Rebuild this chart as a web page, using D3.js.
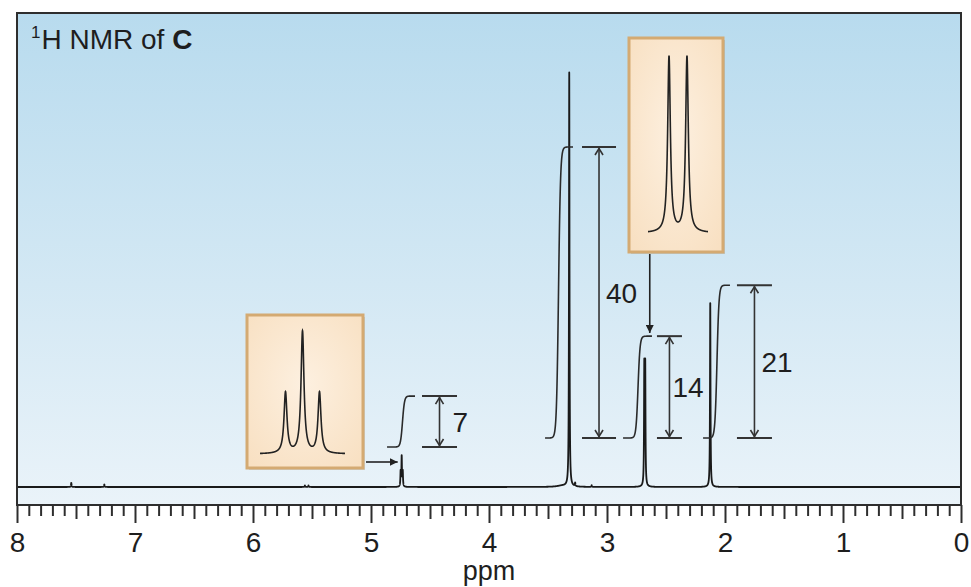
<!DOCTYPE html>
<html><head><meta charset="utf-8">
<script src="https://cdn.jsdelivr.net/npm/d3@7/dist/d3.min.js"></script>
<style>
body{margin:0;background:#fff}
svg{display:block}
text{font-family:"Liberation Sans",Arial,Helvetica,sans-serif;fill:#1e1e1e}
</style>
</head><body>
<svg id="chart" width="971" height="587"></svg>
<script>
// ---------------- data ----------------
const peakPpm    = [7.54, 7.26, 5.56, 5.53, 4.749, 4.740, 4.731, 3.38, 3.32, 3.27, 3.13, 2.684, 2.676, 2.125];
const peakHeight = [1.0,  0.6,  0.4,  0.4,  3.6,   7.2,   3.6,   0.3,  100,  0.8,  0.4,  28.5,  28.5,  44.7];
const peakWidth  = [0.0025,0.0025,0.0025,0.0025,0.0025,0.0025,0.0025,0.05,0.0025,0.0025,0.0025,0.0025,0.0025,0.0025];
const majorTicks = [8, 7, 6, 5, 4, 3, 2, 1, 0];
const integralValues = [7, 40, 14, 21];
const integralFrom   = [4.864, 3.525, 2.864, 2.186];
const integralMid    = [4.733, 3.411, 2.737, 2.068];
const integralTo     = [4.627, 3.288, 2.619, 1.958];
const tripletOffsets = [-1, 0, 1];
const tripletHeights = [1, 2, 1];
const doubletOffsets = [-0.5, 0.5];
const doubletHeights = [1, 1];
const titleParts = ["1", "H NMR of ", "C"];
const axisTitle = "ppm";

// ---------------- layout ----------------
const L = 17, R = 961, T = 13, B = 505, BASE = 487;
const integralBase = [447, 438, 438, 438];
const bracketGap = [7, 9, 5, 7];
const bracketWidth = [35, 34, 25, 35];
const labelGap = [13, 7, 3, 7];

const svg = d3.select("#chart");
const defs = svg.append("defs");
const g1 = defs.append("linearGradient").attr("id","bg").attr("x1",0).attr("y1",0).attr("x2",0).attr("y2",1);
g1.append("stop").attr("offset","0%").attr("stop-color","#b8dbee");
g1.append("stop").attr("offset","55%").attr("stop-color","#d3e8f4");
g1.append("stop").attr("offset","100%").attr("stop-color","#eaf3f9");
const g2 = defs.append("radialGradient").attr("id","peach").attr("cx","50%").attr("cy","45%").attr("r","70%");
g2.append("stop").attr("offset","0%").attr("stop-color","#fdf0e0");
g2.append("stop").attr("offset","100%").attr("stop-color","#f8e0c2");
defs.append("marker").attr("id","fillArrow").attr("viewBox","0 0 10 10").attr("refX",10).attr("refY",5)
  .attr("markerWidth",8).attr("markerHeight",8).attr("markerUnits","userSpaceOnUse").attr("orient","auto")
  .append("path").attr("d","M0,0 L10,5 L0,10 z").attr("fill","#222");

const x = d3.scaleLinear().domain([8, 0]).range([L, R]);
const y = d3.scaleLinear().domain([0, 100]).range([BASE, 73]);
const intH = d3.scaleLinear().domain([0, 40]).range([0, 291]);

// panel
svg.append("rect").attr("x",L).attr("y",T).attr("width",R-L).attr("height",B-T).attr("fill","url(#bg)");

// title
const title = svg.append("text").attr("x",31).attr("y",49).attr("font-size",28);
title.append("tspan").attr("font-size",17).attr("dy",-11).text(titleParts[0]);
title.append("tspan").attr("dy",11).attr("dx",1).text(titleParts[1]);
title.append("tspan").attr("font-weight","bold").text(titleParts[2]);

// spectrum
function lor(p, pos, h, w){ const d = p - pos; return h*w*w/(d*d + w*w); }
const specPts = d3.range(0, 8.0001, 0.0004).map(p => [p, d3.sum(peakPpm, (q,i) => lor(p, q, peakHeight[i], peakWidth[i]))]);
svg.append("path").datum(specPts)
  .attr("d", d3.line().x(d => x(d[0])).y(d => y(d[1])))
  .attr("fill","none").attr("stroke","#1a1a1a").attr("stroke-width",1.8).attr("stroke-linejoin","round");

// integrals + brackets
const S = 0.0085;
integralValues.forEach((v, i) => {
  const base = integralBase[i];
  const pts = d3.range(integralFrom[i], integralTo[i] - 1e-9, -0.0005)
     .map(p => [p, v/(1 + Math.exp(-(integralMid[i] - p)/S))]);
  svg.append("path").datum(pts)
    .attr("d", d3.line().x(d => x(d[0])).y(d => base - intH(d[1])))
    .attr("fill","none").attr("stroke","#2a2a2a").attr("stroke-width",1.6);
  const top = base - intH(v);
  const bx0 = x(integralTo[i]) + bracketGap[i], bx1 = bx0 + bracketWidth[i], ax = (bx0 + bx1)/2;
  const br = svg.append("g").attr("stroke","#333").attr("stroke-width",2).attr("fill","none");
  br.append("line").attr("x1",bx0).attr("x2",bx1).attr("y1",top).attr("y2",top);
  br.append("line").attr("x1",bx0).attr("x2",bx1).attr("y1",base).attr("y2",base);
  br.append("line").attr("x1",ax).attr("x2",ax).attr("y1",top+1).attr("y2",base-1).attr("stroke-width",1.6);
  br.append("path").attr("d",`M${ax-4},${top+8}L${ax},${top+1.5}L${ax+4},${top+8}`).attr("stroke-width",1.6);
  br.append("path").attr("d",`M${ax-4},${base-8}L${ax},${base-1.5}L${ax+4},${base-8}`).attr("stroke-width",1.6);
  svg.append("text").attr("x", ax + labelGap[i]).attr("y", (top+base)/2 + 10)
    .attr("font-size",28).text(v);
});

// insets
function inset(bx, by, bw, bh, offs, hts, xr, yr, hmax, w){
  svg.append("rect").attr("x",bx+2).attr("y",by+2).attr("width",bw).attr("height",bh).attr("fill","rgba(90,70,40,0.18)");
  svg.append("rect").attr("x",bx).attr("y",by).attr("width",bw).attr("height",bh)
    .attr("fill","url(#peach)").attr("stroke","#d4aa72").attr("stroke-width",3);
  const ix = d3.scaleLinear().domain([-xr[2], xr[2]]).range([xr[0], xr[1]]);
  const iy = d3.scaleLinear().domain([0, hmax]).range(yr);
  const pts = d3.range(-xr[2], xr[2]+1e-9, 0.005).map(t => [t, d3.sum(offs, (o,k) => lor(t, o, hts[k], w))]);
  svg.append("path").datum(pts).attr("d", d3.line().x(d => ix(d[0])).y(d => iy(d[1])))
    .attr("fill","none").attr("stroke","#222").attr("stroke-width",1.6);
}
inset(247, 315, 116, 153, tripletOffsets, tripletHeights, [260, 345, 2.5], [454, 332], 2, 0.105);
inset(629, 38, 94, 214, doubletOffsets, doubletHeights, [648, 708, 1.67], [233, 57], 1, 0.09);

// pointer arrows
svg.append("line").attr("x1",366).attr("x2",x(4.74)-4).attr("y1",462).attr("y2",462)
  .attr("stroke","#222").attr("stroke-width",1.6).attr("marker-end","url(#fillArrow)");
svg.append("line").attr("x1",x(2.68)+5).attr("x2",x(2.68)+5).attr("y1",254).attr("y2",333)
  .attr("stroke","#222").attr("stroke-width",1.6).attr("marker-end","url(#fillArrow)");

// frame
svg.append("rect").attr("x",L).attr("y",T).attr("width",R-L).attr("height",B-T)
  .attr("fill","none").attr("stroke","#2e2e2e").attr("stroke-width",2);

// axis ticks
const minorVals = d3.range(0, 81).map(i => i/10).filter(v => Math.abs(v - Math.round(v)) > 1e-6);
const axG = svg.append("g").attr("transform",`translate(0,${B})`);
axG.append("g").call(d3.axisBottom(x).tickValues(minorVals.filter(v => Math.abs(v*2 - Math.round(v*2))>1e-6)).tickSize(11).tickFormat(""));
axG.append("g").call(d3.axisBottom(x).tickValues(minorVals.filter(v => Math.abs(v*2 - Math.round(v*2))<=1e-6)).tickSize(14).tickFormat(""));
axG.append("g").call(d3.axisBottom(x).tickValues(majorTicks).tickSize(18).tickPadding(9).tickFormat(d3.format("d")));
axG.selectAll(".domain").remove();
axG.selectAll(".tick line").attr("stroke","#2e2e2e").attr("stroke-width",2);
axG.selectAll(".tick text").attr("font-size",28).attr("font-family","Liberation Sans, Arial, sans-serif").attr("fill","#1e1e1e");

svg.append("text").attr("x", x(4)).attr("y", 580).attr("text-anchor","middle").attr("font-size",27).text(axisTitle);
</script>
</body></html>
